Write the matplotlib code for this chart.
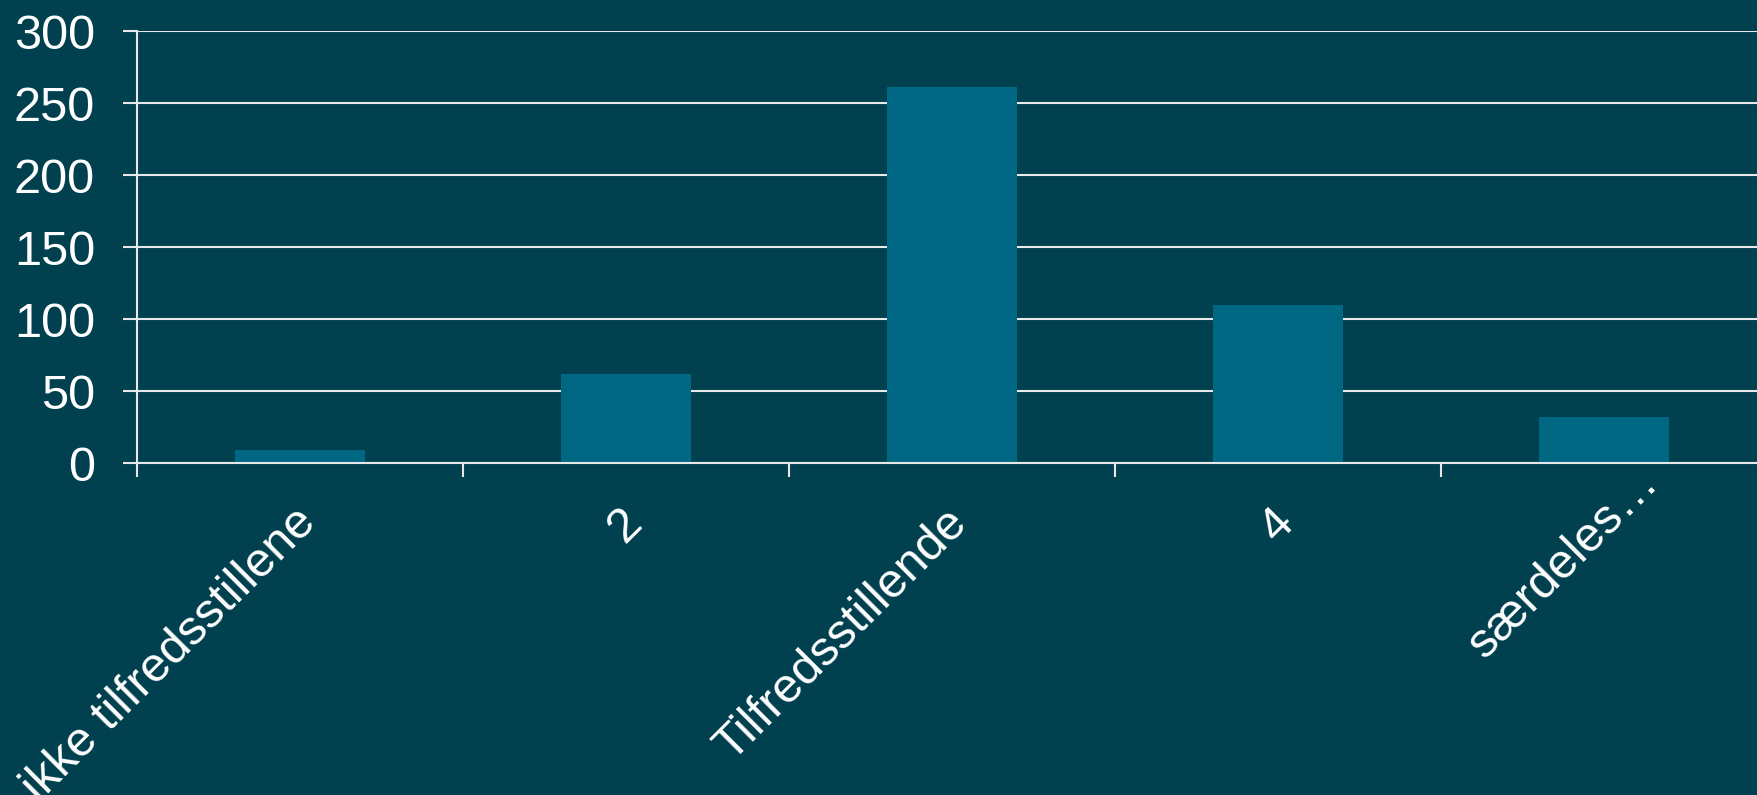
import numpy as np
import matplotlib.pyplot as plt
from matplotlib.ticker import FixedLocator
from matplotlib.transforms import ScaledTranslation

categories = ['ikke tilfredsstillene', '2', 'Tilfredsstillende', '4', 'særdeles…']
values = [9, 62, 261, 110, 32]
yticks = [0, 50, 100, 150, 200, 250, 300]

bg = '#00404f'
bar_color = '#006882'
line_color = '#e8e8e8'

plt.rcParams['font.family'] = ['Liberation Sans', 'DejaVu Sans']

fig = plt.figure(figsize=(17.57, 7.95), dpi=100, facecolor=bg)
ax = fig.add_axes([0.0778, 0.4176, 0.928, 0.5434], facecolor=bg)

x = np.arange(len(categories))
ax.bar(x, values, width=0.4, color=bar_color, zorder=2)

ax.set_xlim(-0.5, len(categories) - 0.5)
ax.set_ylim(0, 300)
ax.set_yticks(yticks)
ax.yaxis.grid(True, color=line_color, linewidth=1.5, zorder=1)
ax.set_axisbelow(True)

for side in ['top', 'right']:
    ax.spines[side].set_visible(False)
for side in ['left', 'bottom']:
    ax.spines[side].set_color(line_color)
    ax.spines[side].set_linewidth(1.5)
    ax.spines[side].set_zorder(3)

# category boundary ticks (unlabelled), labels at category centres
ax.set_xticks(x)
ax.set_xticklabels(categories, rotation=45, ha='right', va='top', rotation_mode='default')
ax.xaxis.set_minor_locator(FixedLocator(np.arange(len(categories) + 1) - 0.5))
ax.tick_params(axis='x', which='major', length=0, pad=30, labelsize=35, labelcolor='white')
ax.tick_params(axis='x', which='minor', length=10, width=1.5, color=line_color, direction='out')
ax.tick_params(axis='y', length=10, width=1.5, color=line_color, pad=20, labelsize=35, labelcolor='white')

# nudge the rotated labels a bit to the right, like the original
for i, lbl in enumerate(ax.get_xticklabels()):
    dx, dy = 0.25, 0.05
    if i == len(categories) - 1:
        dx, dy = 0.63, 0.45
    lbl.set_transform(lbl.get_transform() + ScaledTranslation(dx, dy, fig.dpi_scale_trans))

fig.savefig('out.png', dpi=100, facecolor=bg)
